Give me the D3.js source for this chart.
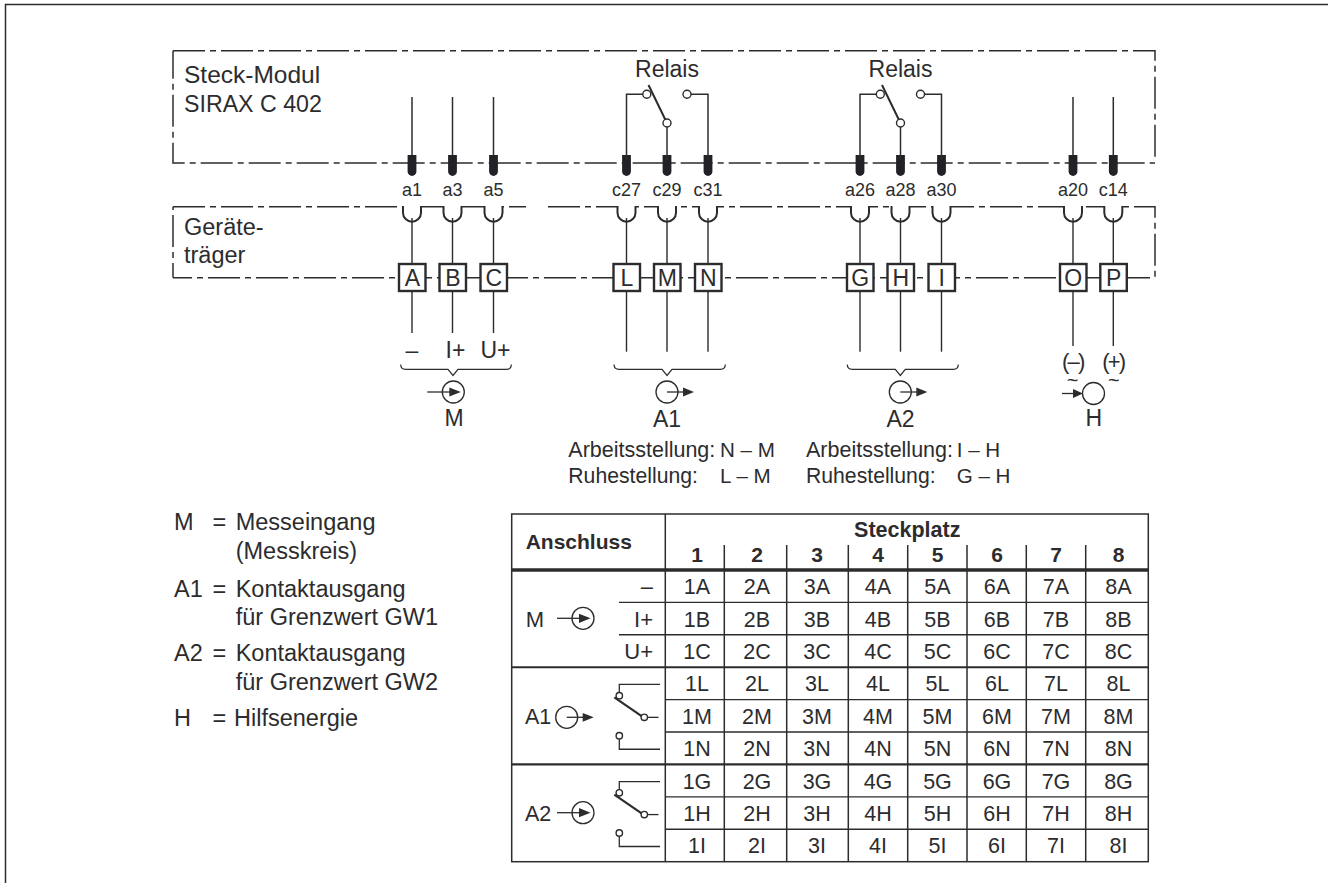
<!DOCTYPE html>
<html>
<head>
<meta charset="utf-8">
<script src="https://cdn.jsdelivr.net/npm/d3@7"></script>
<style>
  html, body { margin: 0; background: #fff; overflow: hidden; }
  text { font-family: "Liberation Sans", Arial, sans-serif; fill: #2c2c2e; }
</style>
</head>
<body>
<svg id="plot" width="1328" height="883" style="display:block"></svg>
<script>
// what the picture says
const connectors = ['a1', 'a3', 'a5', 'c27', 'c29', 'c31', 'a26', 'a28', 'a30', 'a20', 'c14'];
const terminals = ['A', 'B', 'C', 'L', 'M', 'N', 'G', 'H', 'I', 'O', 'P'];
const slots = ['1', '2', '3', '4', '5', '6', '7', '8'];
const rowLetters = ['A', 'B', 'C', 'L', 'M', 'N', 'G', 'H', 'I'];
const polarity = ['\u2013', 'I+', 'U+'];
const outputNotes = [['N \u2013 M', 'L \u2013 M'], ['I \u2013 H', 'G \u2013 H']];
const legendKeys = ['M', 'A1', 'A2', 'H'];
const legendLines = [['Messeingang', '(Messkreis)'], ['Kontaktausgang', 'für Grenzwert GW1'],
  ['Kontaktausgang', 'für Grenzwert GW2'], ['Hilfsenergie']];

// layout of the drawing
const terminalX = [412, 452.5, 493.5, 626.5, 667, 708, 860, 900.5, 941.5, 1073, 1113.3];
const wireEndY = [333, 333, 333, 351.7, 351.7, 351.7, 351.7, 351.7, 351.7, 346, 346];
const slotEdgeX = [665.3, 724.3, 786.7, 848.3, 907.7, 967, 1026.3, 1085.7];
const slotTextX = [697, 757, 817, 878, 937.5, 997, 1056, 1118.5];
const legendY = [[530, 558.5], [596.7, 625], [661, 689.5], [725.7]];
const ink = '#2c2c2e';

const xTerminal = d3.scaleOrdinal(connectors, terminalX);
const xEdge = d3.scaleOrdinal(slots, slotEdgeX);
const xSlot = d3.scaleOrdinal(slots, slotTextX);
const yRow = d3.scaleBand(rowLetters, [570, 861.7]);

const svg = d3.select('#plot');
const line = d3.line();

function rule(g, pts, width) {
  return g.append('path').attr('d', line(pts)).attr('fill', 'none')
    .attr('stroke', ink).attr('stroke-width', width || 1.4);
}

function label(g, x, y, str, size, anchor, weight) {
  return g.append('text').attr('x', x).attr('y', y).text(str)
    .attr('font-size', size).attr('text-anchor', anchor || 'start')
    .attr('font-weight', weight || 'normal');
}

function dashed(g, pts, offset) {
  rule(g, pts, 1.5).attr('stroke-dasharray', '32 5 6 5').attr('stroke-dashoffset', offset);
}

function contact(g, x, y, r) {
  g.append('circle').attr('cx', x).attr('cy', y).attr('r', r)
    .attr('fill', '#fff').attr('stroke', ink).attr('stroke-width', 1.4);
}

function arrowHead(g, x0, x1, y, h) {
  g.append('path').attr('d', line([[x0, y - h], [x1, y], [x0, y + h]]) + 'Z').attr('fill', ink);
}

// symbol: line in from the left, arrow inside the circle
function inputSymbol(g, x, y, lead) {
  g.append('circle').attr('cx', x).attr('cy', y).attr('r', 11).attr('fill', 'none')
    .attr('stroke', ink).attr('stroke-width', 1.3);
  rule(g, [[x - lead, y], [x - 3, y]], 1.3);
  arrowHead(g, x - 4, x + 7.5, y, 4.6);
}

// symbol: line out of the circle centre, arrow outside
function outputSymbol(g, x, y) {
  g.append('circle').attr('cx', x).attr('cy', y).attr('r', 11).attr('fill', 'none')
    .attr('stroke', ink).attr('stroke-width', 1.3);
  rule(g, [[x, y], [x + 17, y]], 1.3);
  arrowHead(g, x + 16, x + 27, y, 4.4);
}

function brace(g, x0, x1, xm) {
  const top = 364.5, y = 369.3, tip = 375.5;
  g.append('path').attr('fill', 'none').attr('stroke', ink).attr('stroke-width', 1.2)
    .attr('d', `M${x0},${top}Q${x0},${y} ${x0 + 5},${y}H${xm - 5}L${xm},${tip}L${xm + 5},${y}H${x1 - 5}Q${x1},${y} ${x1},${top}`);
}

// page frame
rule(svg, [[5.5, 883], [5.5, 4.5], [1328, 4.5]], 1.5);

// dash-dot boxes
const boxes = svg.append('g');
dashed(boxes, [[173, 50.7], [1155, 50.7], [1155, 158]], 0);
dashed(boxes, [[173, 50.7], [173, 163], [1155, 163]], 4);
dashed(boxes, [[173, 206.7], [526, 206.7]], 0);
dashed(boxes, [[548, 206.7], [860, 206.7]], 0);
dashed(boxes, [[860, 206.7], [1155, 206.7], [1155, 277]], 14);
dashed(boxes, [[173, 206.7], [173, 277.7]], 39.7);
dashed(boxes, [[173, 277.7], [1150, 277.7]], 13);

label(svg, 184, 82.7, 'Steck-Modul', 24.5);
label(svg, 184, 112, 'SIRAX C 402', 23.2);
label(svg, 184, 235, 'Geräte-', 23.5);
label(svg, 184, 263, 'träger', 23.5);

// connectors and terminals
const wires = svg.append('g');
connectors.forEach((c, i) => {
  const x = xTerminal(c);
  const relay = (i >= 3 && i <= 8);
  if (!relay) rule(wires, [[x, 97], [x, 160]], 1.5);
  rule(wires, [[x, 218], [x, wireEndY[i]]], 1.4);

  // plug
  wires.append('path').attr('fill', '#222226')
    .attr('d', `M${x - 4.4},155H${x + 4.4}V171.5A4.4,4.4 0 0 1 ${x - 4.4},171.5Z`);
  label(wires, x, 196, c, 18, 'middle');

  // socket
  wires.append('rect').attr('x', x - 9).attr('y', 204).attr('width', 18).attr('height', 10).attr('fill', '#fff');
  wires.append('path').attr('fill', 'none').attr('stroke', ink).attr('stroke-width', 2)
    .attr('d', `M${x - 9},206V212.7A9,9 0 0 0 ${x + 9},212.7V206`);

  // terminal box
  wires.append('rect').attr('x', x - 13).attr('y', 264).attr('width', 26.5).attr('height', 27)
    .attr('fill', '#fff').attr('stroke', ink).attr('stroke-width', 2.4);
  label(wires, x + 0.3, 285.8, terminals[i], 23, 'middle');
});

// relay contacts in the plug-in module
['c27', 'a26'].forEach(c => {
  const x0 = xTerminal(c);
  const g = svg.append('g');
  const xm = x0 + 40.5, x2 = x0 + 81.5;
  label(g, xm, 77.3, 'Relais', 23, 'middle');
  rule(g, [[x0, 160], [x0, 94.3], [x0 + 17, 94.3]], 1.5);
  rule(g, [[x2, 160], [x2, 94.3], [x2 - 17, 94.3]], 1.5);
  rule(g, [[xm, 160], [xm, 123]], 1.5);
  contact(g, x0 + 20.3, 94.3, 4);
  contact(g, x2 - 21, 94.3, 4);
  rule(g, [[x0 + 22, 85], [xm - 1.5, 120]], 2);
  contact(g, xm, 123, 4);
});

// polarity labels and group symbols
polarity.forEach((p, i) => {
  const dx = [0, 3, 2][i];
  label(svg, xTerminal(connectors[i]) + dx, 358, p, 23, 'middle');
});
brace(svg, 400.7, 511.3, 453);
brace(svg, 614, 725.3, 667);
brace(svg, 847.3, 958.3, 900.3);
inputSymbol(svg, 453.3, 392, 26);
outputSymbol(svg, 667, 392);
outputSymbol(svg, 900.3, 392);
label(svg, 454, 426, 'M', 23, 'middle');
label(svg, 667, 426.5, 'A1', 23, 'middle');
label(svg, 900.5, 426.5, 'A2', 23, 'middle');

// auxiliary supply
label(svg, 1072.7, 368.5, '(\u2013)', 22, 'middle').attr('letter-spacing', -1.8);
label(svg, 1113.3, 368.5, '(+)', 22, 'middle').attr('letter-spacing', -1.8);
label(svg, 1072.7, 387, '~', 20, 'middle');
label(svg, 1113.8, 387, '~', 20, 'middle');
svg.append('circle').attr('cx', 1093.5).attr('cy', 393.5).attr('r', 11).attr('fill', 'none')
  .attr('stroke', ink).attr('stroke-width', 1.3);
rule(svg, [[1062, 393.5], [1074, 393.5]], 1.3);
arrowHead(svg, 1073, 1083, 393.5, 4.4);
label(svg, 1093.7, 426, 'H', 23, 'middle');

// contact positions under the outputs
[[568.3, 720], [806, 956.7]].forEach((xs, i) => {
  label(svg, xs[0], 456.7, 'Arbeitsstellung:', 21.5);
  label(svg, xs[1], 456.7, outputNotes[i][0], 20.6);
  label(svg, xs[0], 482.7, 'Ruhestellung:', 21.2);
  label(svg, xs[1], 482.7, outputNotes[i][1], 20.6);
});

// legend on the left
legendKeys.forEach((k, i) => {
  label(svg, 174, legendY[i][0], k, 23.5);
  label(svg, 212.5, legendY[i][0], '=', 23.5);
  legendLines[i].forEach((t, j) => {
    label(svg, i === 3 ? 234 : 235.7, legendY[i][j], t, 23.5);
  });
});

// table
const table = svg.append('g');
const tLeft = 511.7, tRight = 1148.3, tTop = 514, tBot = 861.7;
const bw = yRow.bandwidth();

table.append('rect').attr('x', tLeft).attr('y', tTop).attr('width', tRight - tLeft).attr('height', tBot - tTop)
  .attr('fill', 'none').attr('stroke', ink).attr('stroke-width', 1.5);
rule(table, [[tLeft, yRow('A')], [tRight, yRow('A')]], 3.6);
rule(table, [[tLeft, yRow('L')], [tRight, yRow('L')]], 2.2);
rule(table, [[tLeft, yRow('G')], [tRight, yRow('G')]], 2.2);

rowLetters.forEach((r, i) => {
  if (i % 3 === 0) return;
  const from = i < 3 ? 619 : 665.3;
  rule(table, [[from, yRow(r)], [tRight, yRow(r)]], 1.4);
});

slots.forEach((s, i) => {
  const top = i === 0 ? tTop : 545;
  rule(table, [[xEdge(s), top], [xEdge(s), tBot]], 1.5);
  label(table, xSlot(s), 561.7, s, 21, 'middle', 'bold');
  rowLetters.forEach(r => {
    label(table, xSlot(s), yRow(r) + bw / 2 + 8, s + r, 21.5, 'middle');
  });
});

label(table, 525.7, 549, 'Anschluss', 21, 'start', 'bold');
label(table, 907.3, 536.7, 'Steckplatz', 21.5, 'middle', 'bold');

polarity.forEach((p, i) => {
  label(table, 653, yRow(rowLetters[i]) + bw / 2 + 8, p, 22, 'end');
});

label(table, 525.7, 626.7, 'M', 22);
inputSymbol(table, 583, 618.3, 26);
label(table, 525, 724, 'A1', 21.5);
outputSymbol(table, 566.7, 717.3);
label(table, 525, 821, 'A2', 21.5);
inputSymbol(table, 583, 812.7, 26);

// changeover contact drawn in the table
[['L', 'M', 'N'], ['G', 'H', 'I']].forEach(rows => {
  const g = table.append('g');
  const yTop = yRow(rows[0]) + bw / 2 + 1;
  const yMid = yRow(rows[1]) + bw / 2 + 1.5;
  const yLow = yRow(rows[2]) + bw / 2 + 1;
  rule(g, [[660, yTop], [619.3, yTop], [619.3, yTop + 8]], 1.3);
  rule(g, [[658.5, yMid], [647, yMid]], 1.3);
  rule(g, [[619.3, yLow - 10], [619.3, yLow], [660, yLow]], 1.3);
  contact(g, 619.3, yTop + 11.2, 3.2);
  contact(g, 619.3, yLow - 13.5, 3.2);
  rule(g, [[614.3, yTop + 13], [642, yMid - 1]], 2.2);
  contact(g, 644.3, yMid, 3.2);
});
</script>
</body>
</html>
